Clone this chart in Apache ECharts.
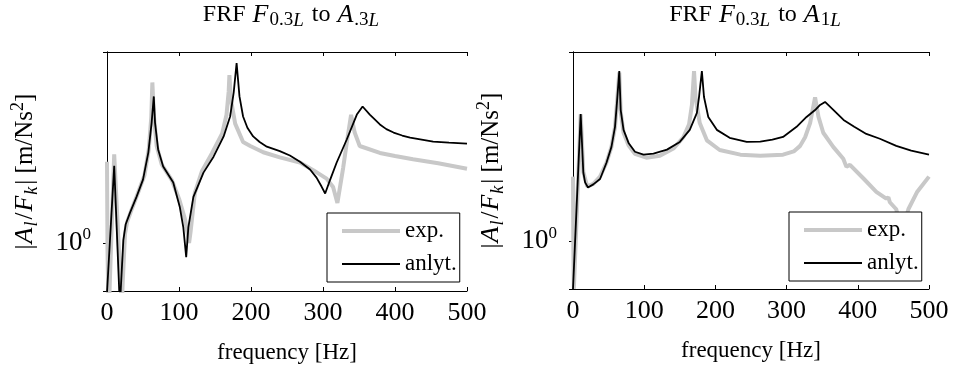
<!DOCTYPE html>
<html><head><meta charset="utf-8">
<script src="https://cdn.jsdelivr.net/npm/echarts@6/dist/echarts.min.js"></script>
<style>html,body{margin:0;padding:0;background:#fff}#c{width:955px;height:370px}</style>
</head><body><div id="c"></div>
<script>
// ---- data (frequency in Hz, magnitude |A/F|) ----
const xTicks = [0, 100, 200, 300, 400, 500];
const yTickValue = 1; // 10^0

const leftAnlFreq = [0, 10, 17, 18, 19, 22.7, 26, 32, 41, 50, 57.4, 62, 65, 66.7, 71, 78, 92, 101, 106, 110, 113, 120, 134, 148, 162, 171, 176, 180, 184, 189, 195, 203, 212, 222, 240, 254, 268, 282, 291, 298, 303, 310, 319, 333, 347, 355, 365, 379, 388, 398, 410, 421, 453, 475, 500];
const leftAnlMag  = [0.59, 2.27, 0.6, 0.4, 0.6, 1.03, 1.22, 1.38, 1.63, 1.96, 2.61, 3.59, 4.74, 3.59, 2.70, 2.25, 1.90, 1.47, 1.18, 0.86, 1.18, 1.63, 2.11, 2.50, 3.10, 3.83, 4.95, 6.75, 4.74, 3.83, 3.40, 3.10, 2.92, 2.78, 2.65, 2.53, 2.37, 2.18, 2.00, 1.82, 1.69, 1.96, 2.35, 3.00, 3.91, 4.26, 3.91, 3.52, 3.35, 3.23, 3.13, 3.06, 2.93, 2.90, 2.87];

const leftExpFreq = [0, 0.7, 2, 3.5, 10, 19.5, 20.5, 21.5, 25, 28, 34, 43, 52, 58, 61.5, 63, 65, 69, 76, 90, 100, 108, 112, 114, 116, 122, 132, 146, 160, 166, 169, 170, 172, 178, 189, 199, 217, 240, 268, 287, 305, 314, 320, 328, 333, 339, 344, 351, 379, 400, 425, 460, 500];
const leftExpMag  = [2.37, 0.93, 0.5, 0.6, 2.56, 0.59, 0.45, 0.62, 1.10, 1.25, 1.42, 1.70, 2.05, 2.70, 3.80, 5.50, 3.90, 2.80, 2.30, 1.95, 1.60, 1.30, 1.10, 1.00, 1.12, 1.70, 2.15, 2.60, 3.20, 3.90, 5.00, 5.95, 4.60, 3.55, 2.92, 2.80, 2.62, 2.48, 2.35, 2.16, 1.98, 1.81, 1.53, 2.22, 2.90, 3.90, 3.23, 2.80, 2.60, 2.52, 2.43, 2.33, 2.20];

const rightAnlFreq = [0, 10.8, 14.5, 17, 21, 28.5, 38, 47, 54, 59, 62, 65, 67, 71, 78, 87, 99, 113, 132, 150, 164, 174, 177, 181, 184, 190, 202, 220, 244, 263, 280, 295, 314, 328, 340, 347, 354, 366, 380, 395, 412, 431, 454, 475, 500];
const rightAnlMag  = [0.6, 3.91, 2.09, 1.88, 1.78, 1.84, 1.95, 2.32, 2.75, 3.41, 4.54, 6.19, 4.08, 3.30, 2.87, 2.61, 2.53, 2.56, 2.67, 2.90, 3.30, 3.96, 4.69, 6.19, 4.69, 3.79, 3.30, 3.03, 2.90, 2.91, 2.97, 3.06, 3.41, 3.79, 4.08, 4.31, 4.45, 4.08, 3.67, 3.41, 3.16, 3.00, 2.78, 2.64, 2.53];

const rightExpFreq = [0, 0.5, 1.2, 10.8, 14.5, 20, 28.5, 38, 47, 54, 59, 62, 65, 67, 71, 78, 87, 103, 122, 141, 155, 163, 167, 170, 172, 178, 188, 206, 235, 263, 295, 310, 319, 326, 333, 340, 344.7, 351.5, 365.5, 379.6, 384, 389, 408, 426, 440, 443, 445, 454, 462, 471, 483, 500];
const rightExpMag  = [2.0, 0.92, 0.6, 3.9, 2.1, 1.8, 1.85, 2.0, 2.32, 2.75, 3.4, 4.5, 6.1, 4.0, 3.2, 2.8, 2.55, 2.45, 2.5, 2.7, 3.05, 3.5, 4.3, 6.19, 4.7, 3.55, 2.95, 2.66, 2.53, 2.5, 2.53, 2.62, 2.78, 3.05, 3.55, 4.68, 3.8, 3.2, 2.75, 2.42, 2.22, 2.27, 1.96, 1.70, 1.58, 1.60, 1.52, 1.41, 1.10, 1.41, 1.69, 2.0];

const yMin = 0.6, yMax = 7.6;

// ---- chart ----
const FONT = 'Liberation Serif';
function zip(f, m) { return f.map((x, i) => [x, m[i]]); }

function richSet(main, ital, sub, lh, slh) {
  const base = { fontFamily: FONT, color: '#000', fontWeight: 'normal' };
  return {
    n:  Object.assign({}, base, { fontSize: main, lineHeight: lh }),
    i:  Object.assign({}, base, { fontSize: ital, fontStyle: 'italic', lineHeight: lh, padding: [0, 1, 0, 1] }),
    s:  Object.assign({}, base, { fontSize: sub, lineHeight: slh, verticalAlign: 'bottom' }),
    si: Object.assign({}, base, { fontSize: sub, fontStyle: 'italic', lineHeight: slh, verticalAlign: 'bottom', padding: [0, 2, 0, 0] }),
    sup:Object.assign({}, base, { fontSize: sub, lineHeight: slh, verticalAlign: 'top' })
  };
}
const titleRich = richSet(24, 26, 19, 30, 17);
const yNameRich = richSet(25, 26, 18, 32, 17);

const grids = [
  { left: 107, top: 52, width: 360, height: 239 },
  { left: 573, top: 52, width: 356, height: 237 }
];

function xAxes(g) {
  return [{
    type: 'value', gridIndex: g, min: 0, max: 500, interval: 100, position: 'bottom',
    axisLine: { show: true, lineStyle: { color: '#000', width: 1 } },
    axisTick: { show: true, inside: true, length: 4, lineStyle: { color: '#000' } },
    axisLabel: { fontFamily: FONT, fontSize: 26, color: '#000', margin: 9 },
    splitLine: { show: false },
    name: 'frequency [Hz]', nameLocation: 'middle', nameGap: 50,
    nameTextStyle: { fontFamily: FONT, fontSize: 23, color: '#000' }
  }, {
    type: 'value', gridIndex: g, min: 0, max: 500, interval: 100, position: 'top',
    axisLine: { show: true, lineStyle: { color: '#000', width: 1 } },
    axisTick: { show: true, inside: true, length: 4, lineStyle: { color: '#000' } },
    axisLabel: { show: false }, splitLine: { show: false }
  }];
}
function yAxes(g) {
  return [{
    type: 'log', logBase: 10, gridIndex: g, min: yMin, max: yMax, position: 'left',
    axisLine: { show: true, lineStyle: { color: '#000', width: 1 } },
    axisTick: { show: true, inside: true, length: 4, lineStyle: { color: '#000' } },
    axisLabel: {
      margin: 16, showMinLabel: false, showMaxLabel: false,
      formatter: v => (Math.abs(v - yTickValue) < 1e-9 ? '{b|10}{p|0}' : ''),
      rich: {
        b: { fontFamily: FONT, fontSize: 27, color: '#000', lineHeight: 33 },
        p: { fontFamily: FONT, fontSize: 17, color: '#000', lineHeight: 17, verticalAlign: 'top' }
      }
    },
    splitLine: { show: false }, minorTick: { show: false },
    name: '{n||}{i|A}{si|l}{n|/}{i|F}{si|k}{n|| [m/Ns}{sup|2}{n|]}',
    nameLocation: 'middle', nameRotate: 90, nameGap: 66,
    nameTextStyle: { rich: yNameRich }
  }, {
    type: 'log', logBase: 10, gridIndex: g, min: yMin, max: yMax, position: 'right',
    axisLine: { show: true, lineStyle: { color: '#000', width: 1 } },
    axisTick: { show: true, inside: true, length: 4, lineStyle: { color: '#000' } },
    axisLabel: { show: false }, splitLine: { show: false }, minorTick: { show: false }
  }];
}

const EXP_COLOR = '#c8c8c8', ANL_COLOR = '#000';
function lineSeries(name, data, g, color, width, z) {
  return {
    type: 'line', name: name, data: data, xAxisIndex: g * 2, yAxisIndex: g * 2,
    symbol: 'none', showSymbol: false, smooth: false, clip: true, z: z,
    lineStyle: { color: color, width: width }, itemStyle: { color: color },
    emphasis: { disabled: true }
  };
}

function legend(left, top) {
  return {
    left: left, top: top, orient: 'vertical', selectedMode: false,
    data: [
      { name: 'exp.', lineStyle: { color: EXP_COLOR, width: 4 } },
      { name: 'anlyt.', lineStyle: { color: ANL_COLOR, width: 1.8 } }
    ],
    itemWidth: 58, itemHeight: 14, itemGap: 9,
    padding: [6, 3, 6, 13],
    borderColor: '#000', borderWidth: 1, borderRadius: 0, backgroundColor: '#fff',
    itemStyle: { opacity: 0 },
    textStyle: { fontFamily: FONT, fontSize: 23, color: '#000', lineHeight: 24 }
  };
}

const option = {
  animation: false,
  backgroundColor: '#fff',
  title: [
    { text: '{n|FRF }{i|F}{s|0.3}{si|L}{n| to }{i|A}{s|.3}{si|L}', left: 287, top: -5, textAlign: 'center',
      textStyle: { fontWeight: 'normal', rich: titleRich } },
    { text: '{n|FRF }{i|F}{s|0.3}{si|L}{n| to }{i|A}{s|1}{si|L}', left: 751, top: -5, textAlign: 'center',
      textStyle: { fontWeight: 'normal', rich: titleRich } }
  ],
  grid: grids,
  xAxis: xAxes(0).concat(xAxes(1)),
  yAxis: yAxes(0).concat(yAxes(1)),
  legend: [legend(327, 213), legend(789, 212)],
  series: [
    lineSeries('exp.', zip(leftExpFreq, leftExpMag), 0, EXP_COLOR, 4, 2),
    lineSeries('anlyt.', zip(leftAnlFreq, leftAnlMag), 0, ANL_COLOR, 1.8, 3),
    lineSeries('exp.', zip(rightExpFreq, rightExpMag), 1, EXP_COLOR, 4, 2),
    lineSeries('anlyt.', zip(rightAnlFreq, rightAnlMag), 1, ANL_COLOR, 1.8, 3)
  ]
};
const chart = echarts.init(document.getElementById('c'));
chart.setOption(option);
</script></body></html>
